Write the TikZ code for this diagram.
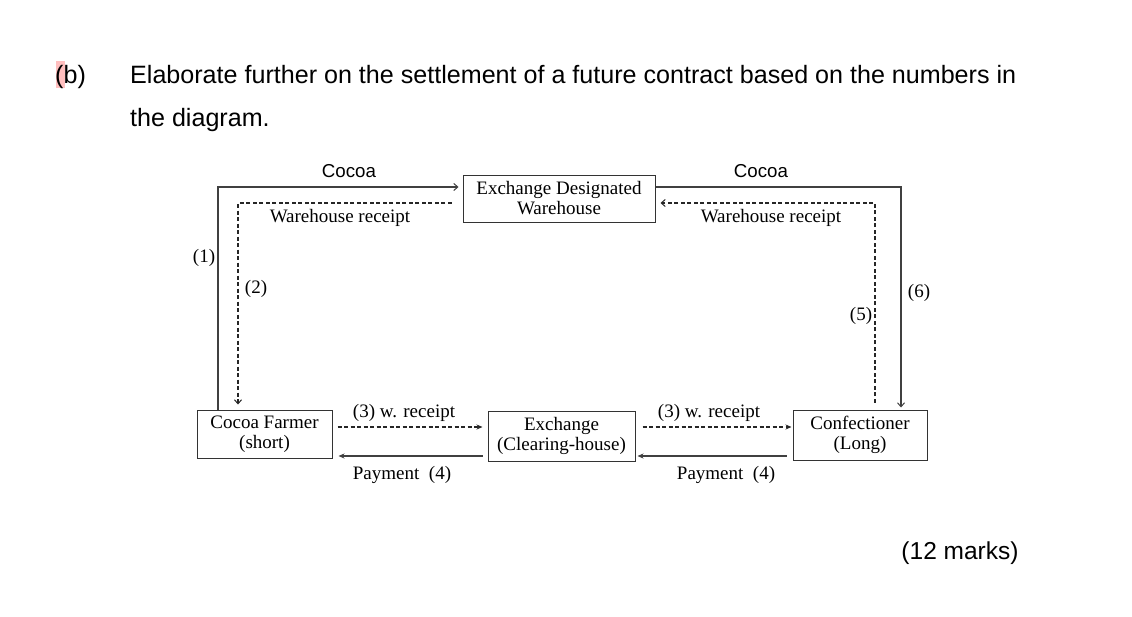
\documentclass[tikz,border=0pt]{standalone}
\usepackage{fontspec}
\setmainfont{Liberation Serif}
\newfontfamily\arialf{Liberation Sans}
\usetikzlibrary{arrows.meta}
\begin{document}
\begin{tikzpicture}[x=1pt,y=-1pt,
  box/.style={draw=black!80, line width=1pt, align=center, inner sep=0pt, font=\fontsize{19}{20}\selectfont},
  lbl/.style={inner sep=0pt, font=\fontsize{19}{21}\selectfont},
  sanslbl/.style={inner sep=0pt, font=\arialf\fontsize{18.7}{21}\selectfont},
  qtext/.style={inner sep=0pt, anchor=base west, font=\arialf\fontsize{25.1}{28}\selectfont},
  solidline/.style={draw=black!75, line width=1.2pt},
  dashline/.style={draw=black!85, line width=1.1pt, dash pattern=on 4pt off 2.5pt},
  openarrow/.style={-{Straight Barb[length=4pt,width=7pt,line width=1pt]}},
  fillarrow/.style={-{Stealth[length=6pt,width=5pt]}}
]
\useasboundingbox (0,0) rectangle (1132,616);
\fill[white] (0,0) rectangle (1132,616);

% highlight and question text
\fill[red!25] (56,61) rectangle (65,88);
\node[qtext] (qb) at (55,83) {(b)};
\node[qtext] (q1) at (130,83) {Elaborate further on the settlement of a future contract based on the numbers in};
\node[qtext] (q2) at (130,126) {the diagram.};
\node[inner sep=0pt, anchor=base, font=\arialf\fontsize{24.5}{28}\selectfont] (marks) at (960,559) {(12 marks)};

% boxes
\node[box, minimum width=192pt, minimum height=47pt] (wh) at (559,198.5) {Exchange Designated\\Warehouse};
\node[box, minimum width=135pt, minimum height=48pt] (farmer) at (264.5,434) {Cocoa Farmer\\(short)};
\node[box, minimum width=147pt, minimum height=50pt] (exch) at (561.5,436) {Exchange\\(Clearing-house)};
\node[box, minimum width=134pt, minimum height=50pt] (conf) at (860,435) {Confectioner\\(Long)};

% corner coordinates
\coordinate (c1) at (218,187);
\coordinate (c2) at (238,203);
\coordinate (c6) at (901,187);
\coordinate (c5) at (875,203);
\coordinate (r3) at (0,427);
\coordinate (r4) at (0,456);

% (1) cocoa farmer -> warehouse
\draw[solidline, openarrow, shorten >=4pt] (c1 |- farmer.north) -- (c1) -- (c1 -| wh.west);
% (2) warehouse receipt -> farmer
\draw[dashline, openarrow, shorten <=11pt, shorten >=5pt] (c2 -| wh.west) -- (c2) -- (c2 |- farmer.north);
% (6) warehouse -> confectioner
\draw[solidline, openarrow, shorten >=2pt] (c6 -| wh.east) -- (c6) -- (c6 |- conf.north);
% (5) confectioner -> warehouse
\draw[dashline, openarrow, shorten <=7pt, shorten >=5pt] (c5 |- conf.north) -- (c5) -- (c5 -| wh.east);

% (3) and (4) bottom
\draw[dashline, fillarrow, shorten <=5pt, shorten >=5pt] (farmer.east |- r3) -- (exch.west |- r3);
\draw[solidline, fillarrow, shorten <=5pt, shorten >=6pt] (exch.west |- r4) -- (farmer.east |- r4);
\draw[dashline, fillarrow, shorten <=7pt, shorten >=1pt] (exch.east |- r3) -- (conf.west |- r3);
\draw[solidline, fillarrow, shorten <=6pt, shorten >=2pt] (conf.west |- r4) -- (exch.east |- r4);

% labels
\node[sanslbl] (l1) at (349,171) {Cocoa};
\node[sanslbl] (l2) at (761,171) {Cocoa};
\node[lbl] (l3) at (340,218) {Warehouse receipt};
\node[lbl] (l4) at (771,218) {Warehouse receipt};
\node[lbl] (n1) at (204,258) {(1)};
\node[lbl] (n2) at (256,289) {(2)};
\node[lbl] (n5) at (861,316) {(5)};
\node[lbl] (n6) at (919,293) {(6)};
\node[lbl] (w1) at (404,413) {(3)\ w. receipt};
\node[lbl] (w2) at (709,413) {(3)\ w. receipt};
\node[lbl] (p1) at (402,475) {Payment\ \ (4)};
\node[lbl] (p2) at (726,475) {Payment\ \ (4)};
\end{tikzpicture}
\end{document}
